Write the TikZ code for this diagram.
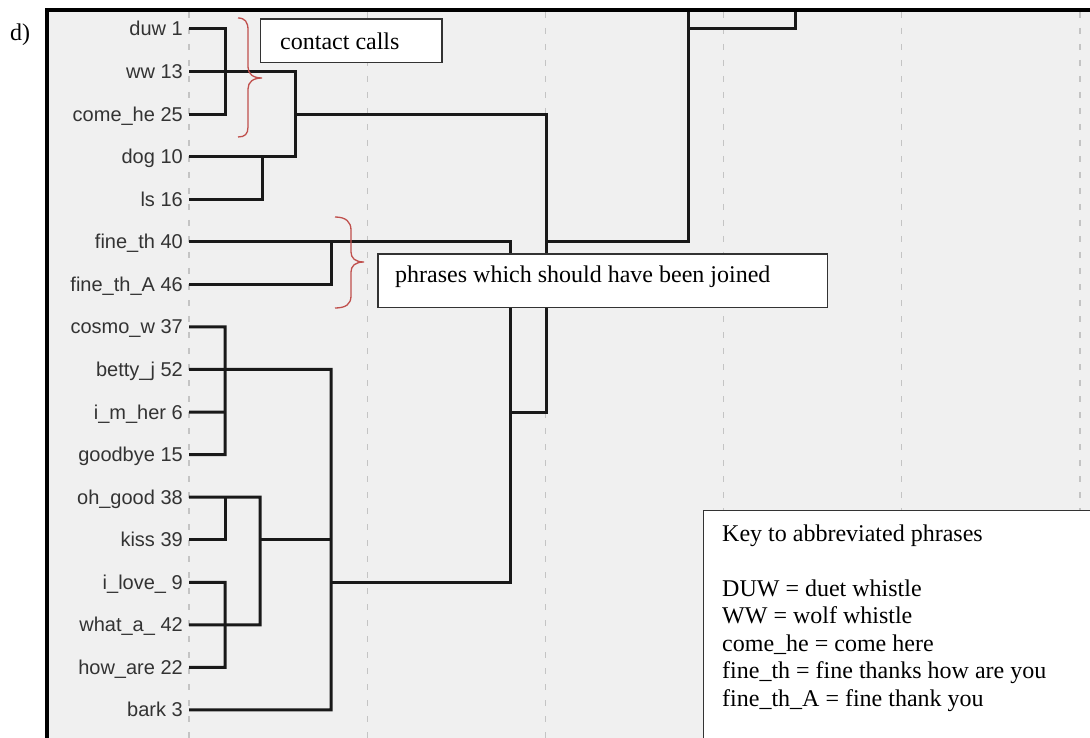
\documentclass[tikz,border=0pt]{standalone}
\usepackage{fontspec}
\setmainfont{Liberation Serif}
\newfontfamily\labfont{Liberation Sans}
\definecolor{panel}{HTML}{F0F0F0}
\definecolor{gridc}{HTML}{C4C4C4}
\definecolor{bracec}{HTML}{C0504D}
\definecolor{labc}{HTML}{333333}
\tikzset{
  dendro/.style={line width=3pt, black!90, line join=miter},
  gridline/.style={gridc, line width=1.2pt, dash pattern=on 6pt off 10pt},
  leaflab/.style={font=\labfont\fontsize{20}{24}\selectfont, text=labc, anchor=base east, inner sep=0pt},
  notebox/.style={draw=black!80, line width=1.3pt, fill=white, anchor=north west, inner sep=0pt},
  notetext/.style={font=\fontsize{24}{27.5}\selectfont, anchor=base west, inner sep=0pt},
  bracepath/.style={bracec, line width=1.3pt},
  frameline/.style={line width=3.2pt, black},
}
\begin{document}
\begin{tikzpicture}[x=1pt,y=-1pt]
\useasboundingbox (0,0) rectangle (1090,738);
\clip (0,0) rectangle (1090,738);
% panel
\fill[panel] (47,10) rectangle (1100,750);
\foreach \x in {189,367.2,545.4,723.6,901.8,1080}
  \draw[gridline] (\x,12) -- (\x,740);
% leaves
\foreach \i/\t in {0/duw 1,1/ww 13,2/come\_he 25,3/dog 10,4/ls 16,5/fine\_th 40,6/fine\_th\_A 46,7/cosmo\_w 37,8/betty\_j 52,9/i\_m\_her 6,10/goodbye 15,11/oh\_good 38,12/kiss 39,13/i\_love\_ 9,14/what\_a\_ 42,15/how\_are 22,16/bark 3}{
  \coordinate (p\i) at (189,29+42.56*\i);
  \node[leaflab] (l\i) at (183,36+42.56*\i) {\t};
}
% dendrogram
\draw[dendro] (p0) -| (225,114.12) -- (p2);
\draw[dendro] (p1) -| (295,156.68) -- (p3);
\draw[dendro] (p4) -| (262,156.68);
\draw[dendro] (295,114.12) -| (546,412.04) -- (510,412.04);
\draw[dendro] (546,241.8) -| (688,10);
\draw[dendro] (688,28.3) -| (795,10);
\draw[dendro] (p5) -| (510,582.28) -- (331,582.28);
\draw[dendro] (p6) -| (331,241.8);
\draw[dendro] (p7) -| (225,454.6) -- (p10);
\draw[dendro] (p9) -- (225,412.04);
\draw[dendro] (p8) -| (331,709.96) -- (p16);
\draw[dendro] (p11) -| (260,624.84) -- (p14);
\draw[dendro] (p12) -| (225,497.16);
\draw[dendro] (p13) -| (225,667.4) -- (p15);
\draw[dendro] (260,539.72) -- (331,539.72);
% frame
\draw[frameline] (47,750) -- (47,10) -- (1100,10);
% braces
\draw[bracepath] (238,18) .. controls (245,18) and (248,22) .. (248,30) -- (248,67) .. controls (248,74) and (253,78) .. (262,78) .. controls (253,78) and (248,82) .. (248,89) -- (248,127) .. controls (248,134) and (245,137) .. (238,137);
\draw[bracepath] (335,217) .. controls (346,217) and (351,222) .. (351,230) -- (351,252) .. controls (351,258) and (355,262) .. (364,262) .. controls (355,262) and (351,266) .. (351,272) -- (351,296) .. controls (351,304) and (346,308) .. (335,308);
% boxes
\node[notebox, minimum width=181.4pt, minimum height=43.4pt] (contactbox) at (260,18.3) {};
\node[notetext] (contacttxt) at (280,49.3) {contact calls};
\node[notebox, minimum width=449.4pt, minimum height=53.4pt] (phrasebox) at (377.3,253.3) {};
\node[notetext] (phrasetxt) at (395,282.3) {phrases which should have been joined};
\node[notebox, minimum width=420pt, minimum height=260pt] (keybox) at (703,510) {};
\node[notetext, anchor=north west, align=left] (keytxt) at (722,524.6) {Key to abbreviated phrases\\[27.5pt]DUW = duet whistle\\WW = wolf whistle\\come\_he = come here\\fine\_th = fine thanks how are you\\fine\_th\_A = fine thank you};
\node[notetext] (dlabel) at (10,40.5) {d)};
\end{tikzpicture}
\end{document}
